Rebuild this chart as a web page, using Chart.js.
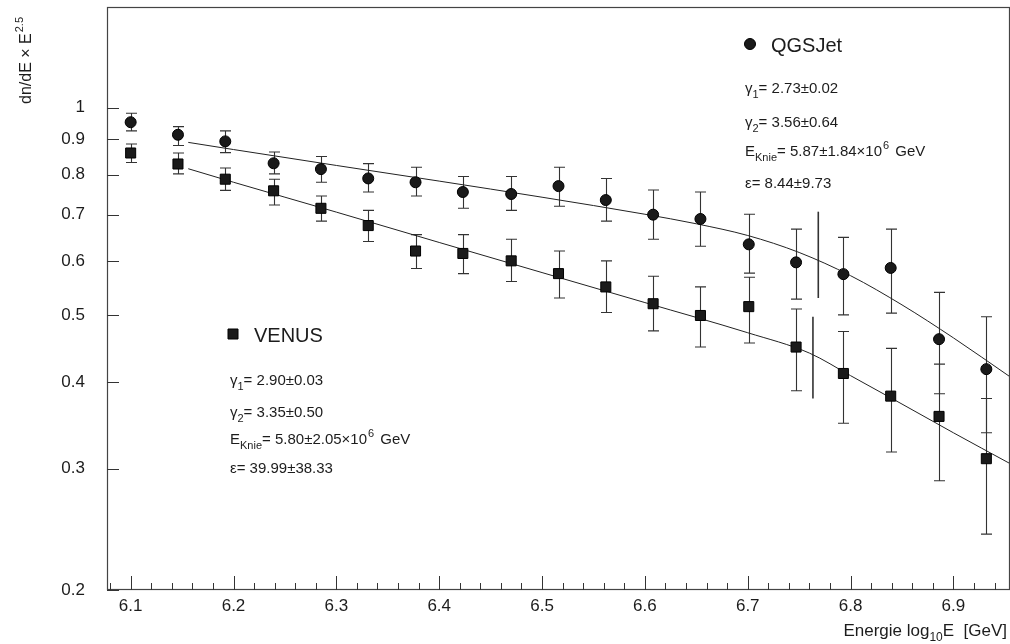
<!DOCTYPE html>
<html>
<head>
<meta charset="utf-8">
<script src="https://cdn.jsdelivr.net/npm/chart.js@4.4.1/dist/chart.umd.min.js"></script>
<style>
  html, body { margin: 0; padding: 0; background: #fff; }
  #wrap { width: 1010px; height: 644px; position: relative; }
</style>
</head>
<body>
<div id="wrap"><canvas id="c" width="1010" height="644"></canvas></div>
<script>
// Energy bins (log10 E / GeV)
const energies = [6.100, 6.146, 6.192, 6.239, 6.285, 6.331, 6.377, 6.423, 6.470, 6.516,
                  6.562, 6.608, 6.654, 6.701, 6.747, 6.793, 6.839, 6.886, 6.932];

// QGSJet: flux x E^2.5 with error band
const qgsjetFlux = [0.953, 0.914, 0.894, 0.831, 0.815, 0.790, 0.780, 0.755, 0.750, 0.770,
                    0.735, 0.700, 0.690, 0.634, 0.597, 0.574, 0.586, 0.462, 0.418];
const qgsjetHigh = [0.982, 0.939, 0.926, 0.863, 0.850, 0.830, 0.820, 0.795, 0.795, 0.820,
                    0.790, 0.760, 0.755, 0.701, 0.667, 0.649, 0.667, 0.540, 0.498];
const qgsjetLow  = [0.926, 0.882, 0.861, 0.802, 0.780, 0.755, 0.745, 0.715, 0.710, 0.720,
                    0.685, 0.645, 0.630, 0.576, 0.528, 0.501, 0.504, 0.385, 0.338];

// VENUS: flux x E^2.5 with error band
const venusFlux = [0.860, 0.829, 0.788, 0.758, 0.715, 0.675, 0.620, 0.615, 0.600, 0.575,
                   0.550, 0.520, 0.500, 0.515, 0.450, 0.412, 0.382, 0.357, 0.310];
const venusHigh = [0.886, 0.860, 0.818, 0.788, 0.745, 0.710, 0.655, 0.655, 0.645, 0.620,
                   0.600, 0.570, 0.550, 0.568, 0.511, 0.474, 0.448, 0.425, 0.379];
const venusLow  = [0.833, 0.802, 0.759, 0.723, 0.685, 0.640, 0.585, 0.575, 0.560, 0.530,
                   0.505, 0.475, 0.450, 0.456, 0.389, 0.349, 0.317, 0.288, 0.241];

// Knee fit curves
const qgsjetFitE = [6.156, 6.200, 6.300, 6.400, 6.500, 6.600, 6.650, 6.700, 6.750, 6.800, 6.850, 6.900, 6.955];
const qgsjetFit  = [0.891, 0.870, 0.825, 0.783, 0.742, 0.701, 0.679, 0.653, 0.617, 0.571, 0.518, 0.464, 0.4075];
const venusFitE  = [6.156, 6.200, 6.300, 6.400, 6.500, 6.600, 6.700, 6.760, 6.800, 6.850, 6.900, 6.955];
const venusFit   = [0.816, 0.780, 0.706, 0.638, 0.577, 0.522, 0.472, 0.441, 0.409, 0.372, 0.338, 0.305];

// Knee position markers
const qgsjetKneeE = 6.7686, qgsjetKneeSpan = [0.530, 0.707];
const venusKneeE  = 6.7634, venusKneeSpan  = [0.379, 0.498];

// Axis ticks
const xTicks = [6.1, 6.2, 6.3, 6.4, 6.5, 6.6, 6.7, 6.8, 6.9];
const yTicks = [0.2, 0.3, 0.4, 0.5, 0.6, 0.7, 0.8, 0.9, 1];

const FONT = '"Liberation Sans", Arial, Helvetica, sans-serif';
const INK = '#1c1c1c';

function pts(xs, ys) { return xs.map((x, i) => ({ x: x, y: ys[i] })); }

const errorBars = {
  id: 'errorBars',
  beforeDatasetsDraw(chart) {
    const { ctx, scales: { x, y } } = chart;
    ctx.save();
    ctx.strokeStyle = '#333';
    ctx.lineWidth = 1.1;
    const sets = [[qgsjetLow, qgsjetHigh], [venusLow, venusHigh]];
    sets.forEach(([lo, hi]) => {
      energies.forEach((e, i) => {
        const px = Math.round(x.getPixelForValue(e)) + 0.5;
        const y1 = y.getPixelForValue(lo[i]);
        const y2 = y.getPixelForValue(hi[i]);
        ctx.beginPath();
        ctx.moveTo(px, y1); ctx.lineTo(px, y2);
        ctx.moveTo(px - 5.5, y1); ctx.lineTo(px + 5.5, y1);
        ctx.moveTo(px - 5.5, y2); ctx.lineTo(px + 5.5, y2);
        ctx.stroke();
      });
    });
    // knee markers
    ctx.lineWidth = 1.6;
    [[qgsjetKneeE, qgsjetKneeSpan], [venusKneeE, venusKneeSpan]].forEach(([e, s]) => {
      const px = x.getPixelForValue(e);
      ctx.beginPath();
      ctx.moveTo(px, y.getPixelForValue(s[0]));
      ctx.lineTo(px, y.getPixelForValue(s[1]));
      ctx.stroke();
    });
    ctx.restore();
  }
};

const frameAndText = {
  id: 'frameAndText',
  afterDraw(chart) {
    const { ctx, chartArea: a, scales: { x, y } } = chart;
    ctx.save();
    // frame
    ctx.strokeStyle = '#444';
    ctx.lineWidth = 1.2;
    ctx.strokeRect(a.left + 0.5, a.top + 0.5, a.right - a.left - 1, a.bottom - a.top - 1);
    // inward ticks on x axis
    ctx.strokeStyle = '#333';
    ctx.lineWidth = 1;
    ctx.beginPath();
    for (let k = 0; k <= 60; k++) {
      const v = 6.08 + k * 0.02;
      if (v < x.min || v > x.max) continue;
      const px = Math.round(x.getPixelForValue(v)) + 0.5;
      const major = Math.abs(v * 10 - Math.round(v * 10)) < 1e-6;
      ctx.moveTo(px, a.bottom);
      ctx.lineTo(px, a.bottom - (major ? 14 : 7));
    }
    // inward ticks on y axis
    yTicks.forEach(v => {
      const py = Math.round(y.getPixelForValue(v)) + 0.5;
      ctx.moveTo(a.left, py);
      ctx.lineTo(a.left + 12, py);
    });
    ctx.stroke();

    ctx.fillStyle = INK;
    ctx.textBaseline = 'alphabetic';

    // x title
    const parts = [['Energie log', 17, 0], ['10', 12, 5], ['E  [GeV]', 17, 0]];
    let total = 0;
    parts.forEach(p => { ctx.font = p[1] + 'px ' + FONT; total += ctx.measureText(p[0]).width; });
    let cx = 1007 - total;
    parts.forEach(p => {
      ctx.font = p[1] + 'px ' + FONT;
      ctx.fillText(p[0], cx, 636 + p[2]);
      cx += ctx.measureText(p[0]).width;
    });

    // y title (rotated)
    ctx.save();
    ctx.translate(31, 104);
    ctx.rotate(-Math.PI / 2);
    ctx.font = '16px ' + FONT;
    ctx.fillText('dn/dE \u00d7 E', 0, 0);
    const w = ctx.measureText('dn/dE \u00d7 E').width;
    ctx.font = '11px ' + FONT;
    ctx.fillText('2.5', w + 1, -8);
    ctx.restore();

    // model labels
    function marker(kind, px, py) {
      ctx.fillStyle = '#1a1a1a';
      ctx.strokeStyle = '#000';
      ctx.lineWidth = 1;
      ctx.beginPath();
      if (kind === 'circle') ctx.arc(px, py, 5.5, 0, Math.PI * 2);
      else ctx.rect(px - 5, py - 5, 10, 10);
      ctx.fill(); ctx.stroke();
      ctx.fillStyle = INK;
    }
    function sub(base, s, rest, px, py, size) {
      ctx.font = size + 'px ' + FONT;
      ctx.fillText(base, px, py);
      let xx = px + ctx.measureText(base).width;
      ctx.font = Math.round(size * 0.72) + 'px ' + FONT;
      ctx.fillText(s, xx, py + 5);
      xx += ctx.measureText(s).width;
      ctx.font = size + 'px ' + FONT;
      ctx.fillText(rest, xx, py);
      return xx + ctx.measureText(rest).width;
    }
    function knieLine(val, exp, px, py, size) {
      let xx = sub('E', 'Knie', '= ' + val + '\u00d710', px, py, size);
      ctx.font = Math.round(size * 0.72) + 'px ' + FONT;
      ctx.fillText(exp, xx + 1, py - 7);
      xx += ctx.measureText(exp).width + 1;
      ctx.font = size + 'px ' + FONT;
      ctx.fillText(' GeV', xx + 2, py);
    }

    marker('circle', 750, 44);
    ctx.font = '20px ' + FONT;
    ctx.fillText('QGSJet', 771, 52);
    sub('\u03b3', '1', '= 2.73\u00b10.02', 745, 93, 15);
    sub('\u03b3', '2', '= 3.56\u00b10.64', 745, 127, 15);
    knieLine('5.87\u00b11.84', '6', 745, 156, 15);
    ctx.font = '15px ' + FONT;
    ctx.fillText('\u03b5= 8.44\u00b19.73', 745, 188);

    marker('rect', 233, 334);
    ctx.font = '20px ' + FONT;
    ctx.fillText('VENUS', 254, 342);
    sub('\u03b3', '1', '= 2.90\u00b10.03', 230, 385, 15);
    sub('\u03b3', '2', '= 3.35\u00b10.50', 230, 417, 15);
    knieLine('5.80\u00b12.05', '6', 230, 444, 15);
    ctx.font = '15px ' + FONT;
    ctx.fillText('\u03b5= 39.99\u00b138.33', 230, 473);
    ctx.restore();
  }
};

new Chart(document.getElementById('c'), {
  type: 'scatter',
  data: {
    datasets: [
      { label: 'QGSJet fit', type: 'line', data: pts(qgsjetFitE, qgsjetFit), borderColor: '#222', borderWidth: 1,
        pointRadius: 0, cubicInterpolationMode: 'monotone', fill: false, order: 3 },
      { label: 'VENUS fit', type: 'line', data: pts(venusFitE, venusFit), borderColor: '#222', borderWidth: 1,
        pointRadius: 0, cubicInterpolationMode: 'monotone', fill: false, order: 3 },
      { label: 'QGSJet', data: pts(energies, qgsjetFlux), pointStyle: 'circle', pointRadius: 5.5,
        backgroundColor: '#1a1a1a', borderColor: '#000', borderWidth: 1, order: 1 },
      { label: 'VENUS', data: pts(energies, venusFlux), pointStyle: 'rect', pointRadius: 7.1,
        backgroundColor: '#1a1a1a', borderColor: '#000', borderWidth: 1, order: 1 }
    ]
  },
  options: {
    responsive: false,
    animation: false,
    events: [],
    layout: { autoPadding: false, padding: { top: 7, right: 0, left: 0, bottom: 0 } },
    plugins: { legend: { display: false }, tooltip: { enabled: false } },
    scales: {
      x: {
        type: 'linear', min: 6.077, max: 6.955,
        afterBuildTicks: s => { s.ticks = xTicks.map(v => ({ value: v })); },
        afterFit: s => { s.height = 54; s.paddingLeft = 0; s.paddingRight = 0; },
        grid: { display: false, drawTicks: false },
        border: { display: false },
        ticks: { color: INK, font: { family: FONT, size: 17 }, padding: 6,
                 maxRotation: 0, autoSkip: false, callback: v => v.toFixed(1) }
      },
      y: {
        type: 'logarithmic', min: 0.2, max: 1.4,
        afterBuildTicks: s => { s.ticks = yTicks.map(v => ({ value: v })); },
        afterFit: s => { s.width = 107; s.paddingTop = 0; s.paddingBottom = 0; },
        grid: { display: false, drawTicks: false },
        border: { display: false },
        ticks: { color: INK, font: { family: FONT, size: 17 }, padding: 22, autoSkip: false,
                 callback: v => (v === 1 ? '1' : String(v)) }
      }
    }
  },
  plugins: [errorBars, frameAndText]
});
</script>
</body>
</html>
